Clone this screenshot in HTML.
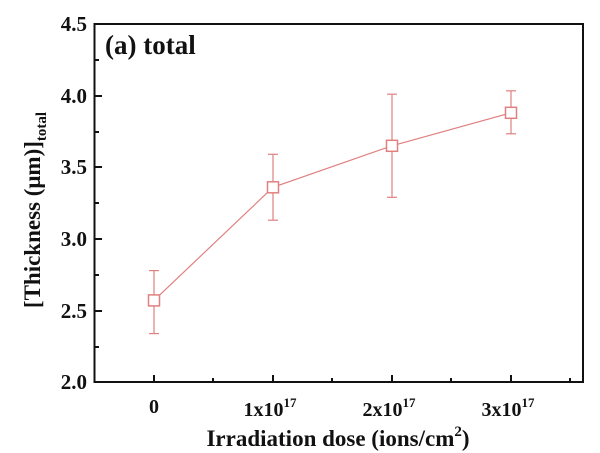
<!DOCTYPE html>
<html><head><style>body{margin:0;background:#fff}svg{display:block}text{font-family:"Liberation Serif",serif;font-weight:bold;fill:#111}</style></head>
<body>
<svg width="600" height="453" viewBox="0 0 600 453">
<rect x="94.5" y="24" width="488.5" height="358" fill="none" stroke="#111" stroke-width="2"/>
<g stroke="#111" stroke-width="2">
<line x1="94.5" y1="24" x2="102" y2="24"/><line x1="94.5" y1="60" x2="99" y2="60"/>
<line x1="94.5" y1="96" x2="102" y2="96"/><line x1="94.5" y1="132" x2="99" y2="132"/>
<line x1="94.5" y1="167" x2="102" y2="167"/><line x1="94.5" y1="203" x2="99" y2="203"/>
<line x1="94.5" y1="239" x2="102" y2="239"/><line x1="94.5" y1="275" x2="99" y2="275"/>
<line x1="94.5" y1="311" x2="102" y2="311"/><line x1="94.5" y1="347" x2="99" y2="347"/>
<line x1="154" y1="382" x2="154" y2="375"/><line x1="213" y1="382" x2="213" y2="378"/>
<line x1="273" y1="382" x2="273" y2="375"/><line x1="332" y1="382" x2="332" y2="378"/>
<line x1="392" y1="382" x2="392" y2="375"/><line x1="451" y1="382" x2="451" y2="378"/>
<line x1="511" y1="382" x2="511" y2="375"/><line x1="570" y1="382" x2="570" y2="378"/>
</g>
<g font-size="21" text-anchor="end">
<text x="87" y="31">4.5</text><text x="87" y="103">4.0</text><text x="87" y="174">3.5</text>
<text x="87" y="246">3.0</text><text x="87" y="318">2.5</text><text x="87" y="389">2.0</text>
</g>
<g font-size="20" text-anchor="middle">
<text x="154" y="413">0</text>
<text x="270" y="416">1x10<tspan font-size="13" dy="-9">17</tspan></text>
<text x="389" y="416">2x10<tspan font-size="13" dy="-9">17</tspan></text>
<text x="508" y="416">3x10<tspan font-size="13" dy="-9">17</tspan></text>
</g>
<text x="338" y="446" font-size="23" text-anchor="middle">Irradiation dose (ions/cm<tspan font-size="15" dy="-10">2</tspan><tspan dy="10">)</tspan></text>
<text transform="translate(40,210) rotate(-90)" font-size="23" text-anchor="middle">[Thickness (μm)]<tspan font-size="15" dy="6">total</tspan></text>
<text x="105" y="54" font-size="27">(a) total</text>
<g stroke="#e08080" stroke-width="1.2" fill="none">
<polyline points="154,300.4 273,187.3 392,145.8 511,112.8"/>
<line x1="154" y1="270.6" x2="154" y2="333.6"/><line x1="149" y1="270.6" x2="159" y2="270.6"/><line x1="149" y1="333.6" x2="159" y2="333.6"/>
<line x1="273" y1="154.3" x2="273" y2="220.2"/><line x1="268" y1="154.3" x2="278" y2="154.3"/><line x1="268" y1="220.2" x2="278" y2="220.2"/>
<line x1="392" y1="94.2" x2="392" y2="197.3"/><line x1="387" y1="94.2" x2="397" y2="94.2"/><line x1="387" y1="197.3" x2="397" y2="197.3"/>
<line x1="511" y1="90.8" x2="511" y2="133.8"/><line x1="506" y1="90.8" x2="516" y2="90.8"/><line x1="506" y1="133.8" x2="516" y2="133.8"/>
<g fill="#fff" stroke-width="1.5">
<rect x="148.5" y="294.9" width="11" height="11"/><rect x="267.5" y="181.8" width="11" height="11"/>
<rect x="386.5" y="140.3" width="11" height="11"/><rect x="505.5" y="107.3" width="11" height="11"/>
</g></g>
</svg>
</body></html>
